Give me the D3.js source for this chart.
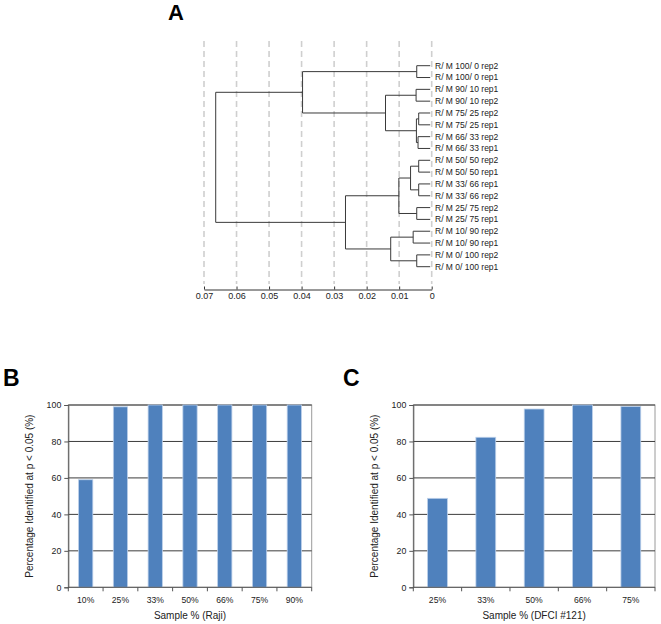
<!DOCTYPE html>
<html>
<head>
<meta charset="utf-8">
<script src="https://cdn.jsdelivr.net/npm/d3@7"></script>
<style>
  body { margin: 0; background: #fff; }
  svg { font-family: "Liberation Sans", Arial, sans-serif; }
</style>
</head>
<body>
<svg id="fig" width="661" height="624"></svg>
<script>
// Dendrogram leaves (top to bottom)
const leafLabels = [
  "R/ M 100/ 0 rep2", "R/ M 100/ 0 rep1", "R/ M 90/ 10 rep1", "R/ M 90/ 10 rep2",
  "R/ M 75/ 25 rep2", "R/ M 75/ 25 rep1", "R/ M 66/ 33 rep2", "R/ M 66/ 33 rep1",
  "R/ M 50/ 50 rep2", "R/ M 50/ 50 rep1", "R/ M 33/ 66 rep1", "R/ M 33/ 66 rep2",
  "R/ M 25/ 75 rep2", "R/ M 25/ 75 rep1", "R/ M 10/ 90 rep2", "R/ M 10/ 90 rep1",
  "R/ M 0/ 100 rep2", "R/ M 0/ 100 rep1"
];
// linkage: [childA, childB, height]; new cluster ids start at leafLabels.length
const merges = [
  [0, 1, 0.0046], [2, 3, 0.0048], [4, 5, 0.0040], [6, 7, 0.0042],
  [20, 21, 0.0047], [19, 22, 0.0142], [18, 23, 0.0397],
  [8, 9, 0.0040], [10, 11, 0.0040], [25, 26, 0.0065], [12, 13, 0.0046],
  [27, 28, 0.0101], [14, 15, 0.0057], [16, 17, 0.0046], [30, 31, 0.0126],
  [29, 32, 0.0265], [24, 33, 0.0664]
];
const distTicks = [0.07, 0.06, 0.05, 0.04, 0.03, 0.02, 0.01, 0];

// Bar charts
const rajiCats = ["10%", "25%", "33%", "50%", "66%", "75%", "90%"];
const rajiVals = [59, 99, 100, 100, 100, 100, 100];
const dfciCats = ["25%", "33%", "50%", "66%", "75%"];
const dfciVals = [48.8, 82.3, 97.8, 100, 99.2];
const pctTicks = [0, 20, 40, 60, 80, 100];

const svg = d3.select("#fig");

// ---------- Panel A: dendrogram ----------
const x = d3.scaleLinear().domain([0.07, 0]).range([204, 431.7]);
const yLeaf = d3.scalePoint().domain(d3.range(leafLabels.length)).range([65.7, 266.7]);

const nodes = leafLabels.map((l, i) => ({ id: i, h: 0, y: yLeaf(i), label: l }));
merges.forEach(m => {
  const a = nodes[m[0]], b = nodes[m[1]];
  nodes.push({ id: nodes.length, h: m[2], y: (a.y + b.y) / 2, children: [a, b] });
});

const A = svg.append("g");
A.selectAll("line.grid").data(distTicks).enter().append("line")
  .attr("x1", d => x(d)).attr("x2", d => x(d))
  .attr("y1", 41).attr("y2", 284)
  .attr("stroke", "#cfcfcf").attr("stroke-width", 1.6)
  .attr("stroke-dasharray", "6,4");

const links = [];
nodes.filter(n => n.children).forEach(n => {
  links.push([[x(n.h), n.children[0].y], [x(n.h), n.children[1].y]]);
  n.children.forEach(c => links.push([[x(n.h), c.y], [x(c.h) - (c.children ? 0 : 1.5), c.y]]));
});
A.selectAll("path.link").data(links).enter().append("path")
  .attr("d", d3.line())
  .attr("fill", "none").attr("stroke", "#3a3a3a").attr("stroke-width", 1);

A.selectAll("text.leaf").data(nodes.filter(n => !n.children)).enter().append("text")
  .attr("x", 435).attr("y", d => d.y).attr("dy", "0.35em")
  .attr("font-size", 8.5).attr("fill", "#222")
  .text(d => d.label);

const axA = A.append("g").attr("transform", "translate(0,289.5)")
  .call(d3.axisBottom(x).tickValues(distTicks).tickSize(-3).tickSizeOuter(0).tickPadding(3)
    .tickFormat(d => d === 0 ? "0" : d3.format(".2f")(d)));
axA.select(".domain").attr("stroke", "#333");
axA.selectAll(".tick line").attr("stroke", "#333");
axA.selectAll("text").attr("font-size", 9).attr("fill", "#222")
  .attr("font-family", "Liberation Sans, Arial, sans-serif");

svg.append("text").attr("x", 168).attr("y", 20).attr("font-size", 22)
  .attr("font-weight", "bold").text("A");

// ---------- Panels B and C: bar charts ----------
function barChart(cats, vals, left, right, title, letter, letterX) {
  const top = 405, bottom = 587.3;
  const g = svg.append("g");
  const xb = d3.scaleBand().domain(cats).range([left, right]).paddingInner(0.59).paddingOuter(0.295);
  const yb = d3.scaleLinear().domain([0, 100]).range([bottom, top]);
  const edges = d3.scalePoint().domain(d3.range(cats.length + 1)).range([left, right]);

  g.append("rect").attr("x", left).attr("y", top)
    .attr("width", right - left).attr("height", bottom - top)
    .attr("fill", "none").attr("stroke", "#9a9a9a").attr("stroke-width", 1);

  g.selectAll("line.grid").data(pctTicks.slice(1)).enter().append("line")
    .attr("x1", left).attr("x2", right)
    .attr("y1", d => yb(d)).attr("y2", d => yb(d))
    .attr("stroke", "#3c3c3c").attr("stroke-width", 1);

  g.selectAll("rect.bar").data(vals).enter().append("rect")
    .attr("x", (d, i) => xb(cats[i])).attr("width", xb.bandwidth())
    .attr("y", d => yb(d)).attr("height", d => bottom - yb(d))
    .attr("fill", "#4f81bd").attr("stroke", "#bcd0ea").attr("stroke-width", 0.8);

  // y axis
  const ya = g.append("g").attr("transform", `translate(${left},0)`)
    .call(d3.axisLeft(yb).tickValues(pctTicks).tickSize(4).tickPadding(3));
  ya.select(".domain").attr("stroke", "#555");
  ya.selectAll(".tick line").attr("stroke", "#555");
  ya.selectAll("text").attr("font-size", 8.8).attr("fill", "#222")
    .attr("font-family", "Liberation Sans, Arial, sans-serif");

  // x axis line + boundary ticks
  g.append("line").attr("x1", left).attr("x2", right).attr("y1", bottom).attr("y2", bottom)
    .attr("stroke", "#555");
  g.selectAll("line.xt").data(d3.range(cats.length + 1)).enter().append("line")
    .attr("x1", d => edges(d)).attr("x2", d => edges(d))
    .attr("y1", bottom).attr("y2", bottom + 4).attr("stroke", "#555");
  g.selectAll("text.xl").data(cats).enter().append("text")
    .attr("x", d => xb(d) + xb.bandwidth() / 2).attr("y", 603)
    .attr("text-anchor", "middle").attr("font-size", 8.6).attr("fill", "#222")
    .text(d => d);

  g.append("text").attr("x", (left + right) / 2).attr("y", 619)
    .attr("text-anchor", "middle").attr("font-size", 10).attr("fill", "#222").text(title);
  g.append("text")
    .attr("transform", `translate(${left - 35},${(top + bottom) / 2}) rotate(-90)`)
    .attr("text-anchor", "middle").attr("font-size", 10).attr("fill", "#222")
    .text("Percentage Identified at p < 0.05 (%)");

  svg.append("text").attr("x", letterX).attr("y", 386).attr("font-size", 23)
    .attr("font-weight", "bold").text(letter);
}

barChart(rajiCats, rajiVals, 68.3, 311.7, "Sample % (Raji)", "B", 3);
barChart(dfciCats, dfciVals, 413.3, 655, "Sample % (DFCI #121)", "C", 343);
</script>
</body>
</html>
